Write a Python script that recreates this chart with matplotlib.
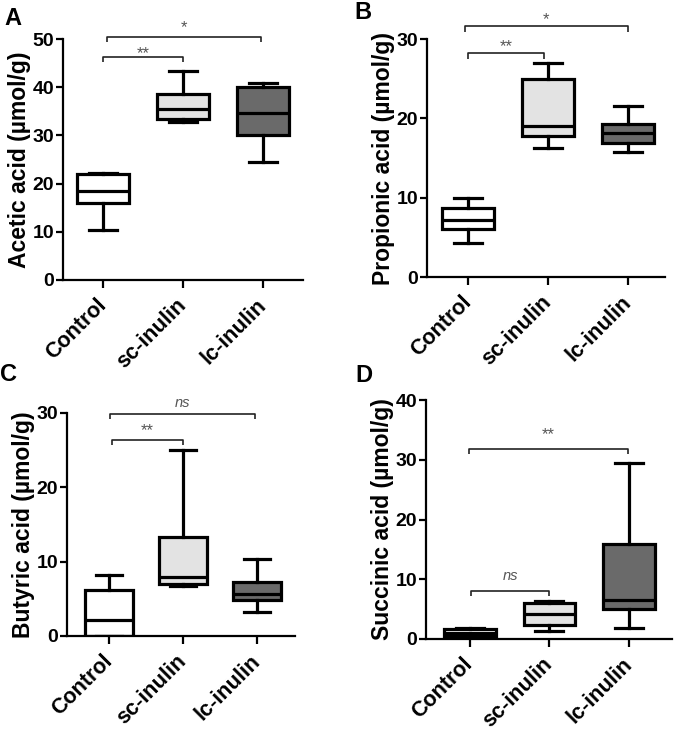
import numpy as np
import matplotlib
matplotlib.use("Agg")
import matplotlib.pyplot as plt
import matplotlib.transforms as mtransforms

plt.rcParams['font.family'] = ['Liberation Sans', 'DejaVu Sans']
plt.rcParams['font.weight'] = 'bold'

# Data
groups = ["Control", "sc-inulin", "lc-inulin"]
fills = ["#ffffff", "#e3e3e3", "#6a6a6a"]

acetic_low = [10.4, 32.8, 24.4]
acetic_q1 = [16.0, 33.5, 30.0]
acetic_med = [18.4, 35.5, 34.7]
acetic_q3 = [21.9, 38.5, 40.0]
acetic_high = [22.3, 43.4, 40.8]

propionic_low = [4.3, 16.2, 15.7]
propionic_q1 = [6.0, 17.8, 16.9]
propionic_med = [7.2, 19.0, 18.2]
propionic_q3 = [8.7, 25.0, 19.3]
propionic_high = [10.0, 27.0, 21.6]

butyric_low = [0.0, 6.7, 3.2]
butyric_q1 = [0.0, 7.0, 4.8]
butyric_med = [2.1, 7.9, 5.6]
butyric_q3 = [6.2, 13.3, 7.3]
butyric_high = [8.2, 25.0, 10.3]

succinic_low = [0.2, 1.4, 1.8]
succinic_q1 = [0.5, 2.4, 5.0]
succinic_med = [1.0, 4.1, 6.6]
succinic_q3 = [1.6, 6.0, 15.9]
succinic_high = [1.8, 6.3, 29.5]

# brackets: (from, to, bracket height, label, label height)
acetic_sig = [(0, 1, 46.3, "**", 47.9), (0.05, 1.97, 50.5, "*", 53.3)]
propionic_sig = [(0, 0.95, 28.2, "**", 29.6), (-0.04, 2.0, 31.6, "*", 33.1)]
butyric_sig = [(0.04, 0.99, 26.4, "**", 28.3), (0.01, 1.97, 29.9, "ns", 31.3)]
succinic_sig = [(0.02, 1.0, 8.1, "ns", 10.6), (-0.01, 1.99, 31.8, "**", 35.0)]

panels = [
    dict(letter="A", ylabel="Acetic acid (\u00b5mol/g)", ymax=50, step=10,
         stats=(acetic_low, acetic_q1, acetic_med, acetic_q3, acetic_high),
         sig=acetic_sig, rect=[0.0933, 0.6196, 0.3556, 0.3274], xlim=(-0.5, 2.5),
         lpos=(0.007, 0.991)),
    dict(letter="B", ylabel="Propionic acid (\u00b5mol/g)", ymax=30, step=10,
         stats=(propionic_low, propionic_q1, propionic_med, propionic_q3, propionic_high),
         sig=propionic_sig, rect=[0.6326, 0.6236, 0.3526, 0.3234], xlim=(-0.51, 2.46),
         lpos=(0.525, 0.998)),
    dict(letter="C", ylabel="Butyric acid (\u00b5mol/g)", ymax=30, step=10,
         stats=(butyric_low, butyric_q1, butyric_med, butyric_q3, butyric_high),
         sig=butyric_sig, rect=[0.0993, 0.1359, 0.3378, 0.3030], xlim=(-0.57, 2.51),
         lpos=(0.0, 0.507)),
    dict(letter="D", ylabel="Succinic acid (\u00b5mol/g)", ymax=40, step=10,
         stats=(succinic_low, succinic_q1, succinic_med, succinic_q3, succinic_high),
         sig=succinic_sig, rect=[0.6311, 0.1318, 0.3644, 0.3247], xlim=(-0.55, 2.54),
         lpos=(0.527, 0.505)),
]

fig = plt.figure(figsize=(6.75, 7.36), dpi=100)

for p in panels:
    ax = fig.add_axes(p["rect"])
    low, q1, med, q3, high = p["stats"]
    bstats = [dict(whislo=low[i], q1=q1[i], med=med[i], q3=q3[i], whishi=high[i],
                   fliers=[], label=groups[i]) for i in range(len(groups))]
    lw = 2.3
    bp = ax.bxp(bstats, positions=range(len(groups)), widths=0.65, capwidths=0.35,
                patch_artist=True, showfliers=False,
                boxprops=dict(linewidth=lw, edgecolor="black"),
                medianprops=dict(linewidth=lw, color="black"),
                whiskerprops=dict(linewidth=lw, color="black"),
                capprops=dict(linewidth=lw, color="black"))
    for patch, c in zip(bp["boxes"], fills):
        patch.set_facecolor(c)

    ymax = p["ymax"]
    drop = 0.022 * ymax
    star_shift = mtransforms.ScaledTranslation(0, -3.5 / 72, fig.dpi_scale_trans)
    for a, b, h, lab, th in p["sig"]:
        ax.plot([a, a, b, b], [h - drop, h, h, h - drop], color="#222222",
                lw=1.2, clip_on=False, solid_capstyle="butt")
        if lab == "ns":
            ax.text((a + b) / 2, th, lab, ha="center", va="center",
                    fontsize=10.5, color="#555555", fontweight="normal",
                    fontstyle="italic", clip_on=False)
        else:
            ax.text((a + b) / 2, th, lab, ha="center", va="center",
                    fontsize=12, color="#555555", fontweight="normal",
                    transform=ax.transData + star_shift, clip_on=False)

    ax.set_ylim(0, ymax)
    ax.set_xlim(*p["xlim"])
    ax.set_yticks(np.arange(0, ymax + 1, p["step"]))
    ax.set_xticks(range(len(groups)))
    ax.set_xticklabels(groups, rotation=45, ha="right", va="center",
                       rotation_mode="anchor", fontsize=15.5, fontweight="bold")
    ax.tick_params(axis="y", labelsize=14, width=1.6, length=5, direction="out", pad=1.5)
    ax.tick_params(axis="x", width=1.6, length=6, direction="out", pad=10)
    for t in ax.get_yticklabels():
        t.set_fontweight("bold")
    ax.set_ylabel(p["ylabel"], fontsize=16.5, fontweight="bold", labelpad=1)
    ax.spines["top"].set_visible(False)
    ax.spines["right"].set_visible(False)
    ax.spines["left"].set_linewidth(1.6)
    ax.spines["bottom"].set_linewidth(1.6)
    fig.text(p["lpos"][0], p["lpos"][1], p["letter"], fontsize=17,
             fontweight="bold", va="top", ha="left")

fig.savefig("out.png", dpi=100)
